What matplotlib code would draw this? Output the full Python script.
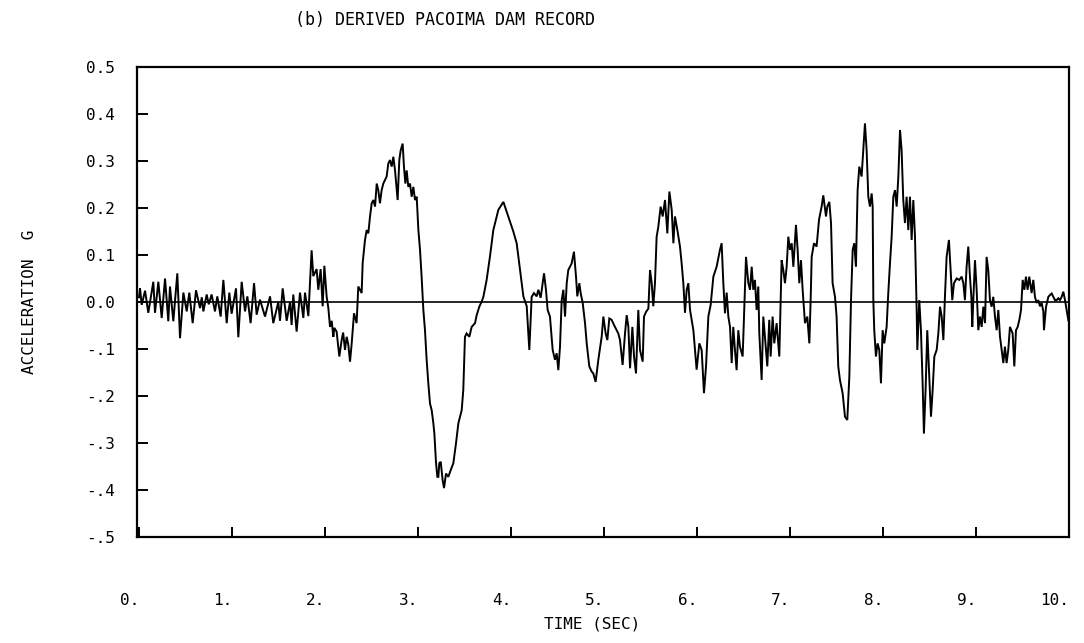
import numpy as np
import matplotlib
matplotlib.use("Agg")
import matplotlib.pyplot as plt

# ---------------- data (time in s, acceleration in g)
t_quiet = [0.0, 0.011, 0.029, 0.065, 0.10, 0.154, 0.172, 0.208, 0.244, 0.28, 0.315, 0.333, 0.369,
           0.412, 0.441, 0.477, 0.513, 0.541, 0.577, 0.613, 0.656, 0.675, 0.692, 0.728, 0.75, 0.781,
           0.817, 0.842, 0.878, 0.907, 0.943, 0.971, 0.996, 1.043, 1.068, 1.104, 1.14, 1.165, 1.2,
           1.237, 1.265, 1.301, 1.355, 1.409, 1.444, 1.498, 1.516, 1.545, 1.588, 1.624, 1.641, 1.659,
           1.695, 1.731, 1.767, 1.785, 1.821]
a_quiet = [0.010, 0.029, -0.006, 0.024, -0.023, 0.043, -0.023, 0.043, -0.034, 0.050, -0.041, 0.033,
           -0.041, 0.061, -0.077, 0.020, -0.020, 0.020, -0.045, 0.025, -0.013, 0.010, -0.020, 0.016,
           -0.005, 0.016, -0.020, 0.012, -0.031, 0.047, -0.045, 0.020, -0.025, 0.029, -0.075, 0.043,
           -0.020, 0.012, -0.045, 0.040, -0.027, 0.005, -0.031, 0.012, -0.045, 0.000, -0.040, 0.029,
           -0.040, 0.000, -0.049, 0.016, -0.063, 0.020, -0.034, 0.020, -0.030]

t_onset = [1.856, 1.874, 1.91, 1.928, 1.953, 1.975, 1.993, 2.018, 2.036, 2.054, 2.072, 2.09, 2.10,
           2.125, 2.154, 2.179, 2.195, 2.215, 2.233, 2.25, 2.269, 2.287, 2.312, 2.34, 2.358, 2.394]
a_onset = [0.110, 0.055, 0.070, 0.026, 0.070, -0.009, 0.077, 0.011, -0.013, -0.053, -0.040, -0.074,
           -0.055, -0.063, -0.116, -0.081, -0.065, -0.102, -0.074, -0.090, -0.127, -0.088, -0.024,
           -0.045, 0.033, 0.019]

t_pulse = [2.405, 2.43, 2.448, 2.466, 2.484, 2.502, 2.52, 2.538, 2.556, 2.573, 2.591, 2.609, 2.627,
           2.663, 2.681, 2.699, 2.717, 2.735, 2.753, 2.771, 2.781, 2.799, 2.814, 2.835, 2.849, 2.864,
           2.878, 2.896, 2.914, 2.932, 2.95, 2.968, 2.986, 3.004, 3.022, 3.039, 3.057, 3.075, 3.093,
           3.111, 3.129, 3.147, 3.165, 3.176, 3.194, 3.208, 3.219, 3.229, 3.244, 3.265, 3.28, 3.301,
           3.326, 3.351, 3.38, 3.409, 3.434, 3.452, 3.47, 3.487, 3.505, 3.523, 3.552, 3.577, 3.613,
           3.631, 3.659, 3.685, 3.703, 3.738, 3.774, 3.81, 3.864, 3.918, 3.971, 4.025, 4.061, 4.097,
           4.133, 4.169, 4.197]
a_pulse = [0.083, 0.132, 0.153, 0.146, 0.182, 0.210, 0.217, 0.203, 0.252, 0.238, 0.210, 0.238, 0.252,
           0.267, 0.295, 0.302, 0.288, 0.309, 0.280, 0.238, 0.217, 0.302, 0.323, 0.337, 0.288, 0.252,
           0.280, 0.245, 0.252, 0.224, 0.245, 0.217, 0.224, 0.153, 0.110, 0.053, -0.015, -0.060,
           -0.123, -0.173, -0.216, -0.230, -0.258, -0.280, -0.343, -0.372, -0.372, -0.343, -0.340,
           -0.379, -0.396, -0.365, -0.372, -0.358, -0.343, -0.300, -0.258, -0.244, -0.230, -0.187,
           -0.074, -0.067, -0.074, -0.053, -0.045, -0.028, -0.010, 0.001, 0.011, 0.047, 0.097, 0.153,
           0.196, 0.213, 0.182, 0.150, 0.125, 0.068, 0.012, -0.009, -0.102]

t_mid = [4.222, 4.247, 4.276, 4.294, 4.319, 4.34, 4.355, 4.376, 4.394, 4.419, 4.448, 4.473, 4.491,
         4.509, 4.527, 4.545, 4.563, 4.581, 4.599, 4.616, 4.652, 4.677, 4.699, 4.713, 4.735, 4.749,
         4.771, 4.796, 4.814, 4.842, 4.867, 4.885, 4.91, 4.939, 4.975, 4.993, 5.018, 5.036, 5.057,
         5.082, 5.118, 5.154, 5.172, 5.2, 5.226, 5.244, 5.262, 5.28, 5.305, 5.323, 5.344, 5.369,
         5.387, 5.416, 5.43, 5.452, 5.477, 5.495, 5.513, 5.53, 5.548, 5.566, 5.584, 5.609, 5.631,
         5.656, 5.681, 5.703, 5.728, 5.746, 5.763, 5.789, 5.817, 5.835, 5.853, 5.871, 5.889, 5.907,
         5.925, 5.961, 5.996, 6.025, 6.05, 6.075, 6.097, 6.122, 6.147, 6.176, 6.211, 6.247, 6.265,
         6.283, 6.301, 6.319, 6.337, 6.355, 6.373, 6.39, 6.408, 6.426, 6.444, 6.462, 6.491]
a_mid = [0.011, 0.019, 0.012, 0.026, 0.009, 0.040, 0.061, 0.026, -0.017, -0.031, -0.102, -0.123,
         -0.109, -0.145, -0.095, 0.004, 0.026, -0.031, 0.040, 0.068, 0.082, 0.107, 0.054, 0.012,
         0.040, 0.019, -0.002, -0.045, -0.088, -0.137, -0.148, -0.152, -0.170, -0.123, -0.074,
         -0.031, -0.067, -0.081, -0.035, -0.038, -0.053, -0.067, -0.081, -0.134, -0.067, -0.028,
         -0.053, -0.141, -0.053, -0.116, -0.152, -0.017, -0.102, -0.127, -0.031, -0.021, -0.014,
         0.068, 0.040, -0.009, 0.040, 0.139, 0.160, 0.203, 0.182, 0.217, 0.146, 0.235, 0.196, 0.125,
         0.182, 0.153, 0.118, 0.082, 0.040, -0.023, 0.026, 0.040, -0.017, -0.060, -0.144, -0.088,
         -0.102, -0.194, -0.137, -0.031, -0.006, 0.054, 0.075, 0.111, 0.125, 0.040, -0.024, 0.020,
         -0.031, -0.053, -0.130, -0.053, -0.102, -0.145, -0.060, -0.095, -0.116]

t_late = [6.516, 6.527, 6.552, 6.57, 6.588, 6.605, 6.623, 6.641, 6.659, 6.67, 6.695, 6.713, 6.742,
          6.756, 6.777, 6.792, 6.813, 6.831, 6.856, 6.885, 6.91, 6.928, 6.946, 6.964, 6.982, 7.0,
          7.018, 7.036, 7.064, 7.082, 7.1, 7.118, 7.136, 7.154, 7.161, 7.186, 7.208, 7.222, 7.233,
          7.258, 7.286, 7.312, 7.34, 7.358, 7.387, 7.401, 7.423, 7.441, 7.458, 7.484, 7.501, 7.519,
          7.537, 7.566, 7.591, 7.616, 7.638, 7.656, 7.674, 7.691, 7.709, 7.727, 7.745, 7.77, 7.788,
          7.806, 7.824, 7.842, 7.86, 7.878, 7.889, 7.896, 7.906, 7.924, 7.942, 7.96, 7.978, 7.996,
          8.014, 8.039, 8.057, 8.075, 8.093, 8.111, 8.129, 8.147, 8.165, 8.183, 8.2, 8.218, 8.236,
          8.254, 8.272, 8.29, 8.308, 8.326, 8.344, 8.362, 8.369, 8.39, 8.408, 8.426, 8.44, 8.458,
          8.476, 8.498, 8.516, 8.534, 8.552, 8.577, 8.595, 8.613, 8.631, 8.649, 8.666, 8.684, 8.709,
          8.727, 8.745, 8.763, 8.792, 8.82, 8.846, 8.864, 8.881, 8.899, 8.917, 8.935, 8.95, 8.96,
          8.971, 8.989, 9.007, 9.025, 9.043, 9.061, 9.079, 9.097, 9.114, 9.132, 9.15, 9.168, 9.186,
          9.204, 9.222, 9.24, 9.258, 9.276, 9.294, 9.311, 9.329, 9.347, 9.365, 9.394, 9.412, 9.43,
          9.448, 9.466, 9.484, 9.502, 9.52, 9.537, 9.555, 9.573, 9.598, 9.616, 9.634, 9.652, 9.67,
          9.688, 9.706, 9.724, 9.731, 9.753, 9.778, 9.796, 9.814, 9.832, 9.849, 9.867, 9.885, 9.903,
          9.921, 9.939, 9.957, 9.975, 9.993]
a_late = [0.030, 0.096, 0.040, 0.026, 0.075, 0.026, 0.047, -0.017, 0.033, -0.067, -0.166, -0.031,
          -0.102, -0.137, -0.038, -0.116, -0.031, -0.088, -0.045, -0.116, 0.089, 0.068, 0.040, 0.075,
          0.139, 0.111, 0.125, 0.075, 0.164, 0.111, 0.040, 0.089, 0.026, -0.024, -0.045, -0.031,
          -0.088, 0.004, 0.096, 0.125, 0.118, 0.175, 0.203, 0.227, 0.182, 0.203, 0.213, 0.168, 0.040,
          0.011, -0.031, -0.137, -0.166, -0.194, -0.244, -0.251, -0.159, 0.004, 0.111, 0.125, 0.075,
          0.238, 0.288, 0.267, 0.323, 0.380, 0.323, 0.224, 0.203, 0.231, 0.203, 0.004, -0.060, -0.116,
          -0.088, -0.102, -0.173, -0.060, -0.088, -0.053, 0.020, 0.082, 0.139, 0.224, 0.238, 0.203,
          0.267, 0.366, 0.323, 0.217, 0.168, 0.224, 0.153, 0.224, 0.132, 0.217, 0.139, -0.017, -0.102,
          0.004, -0.060, -0.173, -0.280, -0.187, -0.060, -0.159, -0.244, -0.187, -0.116, -0.102,
          -0.067, -0.010, -0.031, -0.081, 0.011, 0.096, 0.132, 0.068, 0.004, 0.040, 0.050, 0.047,
          0.054, 0.040, 0.004, 0.075, 0.118, 0.054, 0.011, -0.053, 0.004, 0.089, 0.026, -0.060,
          -0.031, -0.053, -0.010, -0.045, 0.096, 0.068, 0.004, -0.010, 0.011, -0.031, -0.060, -0.017,
          -0.074, -0.102, -0.130, -0.095, -0.130, -0.102, -0.053, -0.067, -0.137, -0.060, -0.053,
          -0.038, -0.017, 0.047, 0.026, 0.054, 0.026, 0.054, 0.019, 0.047, 0.011, -0.002, 0.004,
          -0.009, -0.002, -0.020, -0.060, -0.010, 0.011, 0.015, 0.018, 0.011, 0.004, 0.004, 0.008,
          0.004, 0.011, 0.022, 0.004, -0.017, -0.039]

x_ticks = [0, 1, 2, 3, 4, 5, 6, 7, 8, 9, 10]
x_tick_labels = ["0.", "1.", "2.", "3.", "4.", "5.", "6.", "7.", "8.", "9.", "10."]
y_ticks = [0.5, 0.4, 0.3, 0.2, 0.1, 0.0, -0.1, -0.2, -0.3, -0.4, -0.5]
y_tick_labels = ["0.5", "0.4", "0.3", "0.2", "0.1", "0.0", "-.1", "-.2", "-.3", "-.4", "-.5"]

title_text = "(b) DERIVED PACOIMA DAM RECORD"
x_label = "TIME (SEC)"
y_label = "ACCELERATION  G"

# ---------------- figure
t = np.concatenate([t_quiet, t_onset, t_pulse, t_mid, t_late])
a = np.concatenate([a_quiet, a_onset, a_pulse, a_mid, a_late])

W, H = 1084, 643
fig = plt.figure(figsize=(W / 100, H / 100), dpi=100)
left, right, top, bottom = 137, 1069, 67, 537
ax = fig.add_axes([left / W, 1 - bottom / H, (right - left) / W, (bottom - top) / H])

font = "DejaVu Sans Mono"
ax.plot(t, a, color="black", lw=1.4, solid_joinstyle="miter")
ax.axhline(0.0, color="black", lw=1.2)

ax.set_xlim(-0.0215, 10.0)
ax.set_ylim(-0.5, 0.5)

for s in ax.spines.values():
    s.set_linewidth(1.6)
    s.set_color("black")

ax.set_xticks(x_ticks)
ax.set_xticklabels(x_tick_labels, fontfamily=font, fontsize=11.5, ha="right")
ax.set_yticks(y_ticks)
ax.set_yticklabels(y_tick_labels, fontfamily=font, fontsize=11.5)
ax.tick_params(axis="x", direction="in", length=7, width=1.4, pad=40)
ax.tick_params(axis="y", direction="in", length=8, width=1.4, pad=16)

fig.text(445 / W, 1 - 20 / H, title_text, ha="center", va="center",
         fontfamily=font, fontsize=12)
fig.text(592 / W, 1 - 624 / H, x_label, ha="center", va="center",
         fontfamily=font, fontsize=11.5)
fig.text(30 / W, 1 - 302 / H, y_label, ha="center", va="center", rotation=90,
         fontfamily=font, fontsize=11.5)

fig.savefig("out.png", dpi=100, facecolor="white")
